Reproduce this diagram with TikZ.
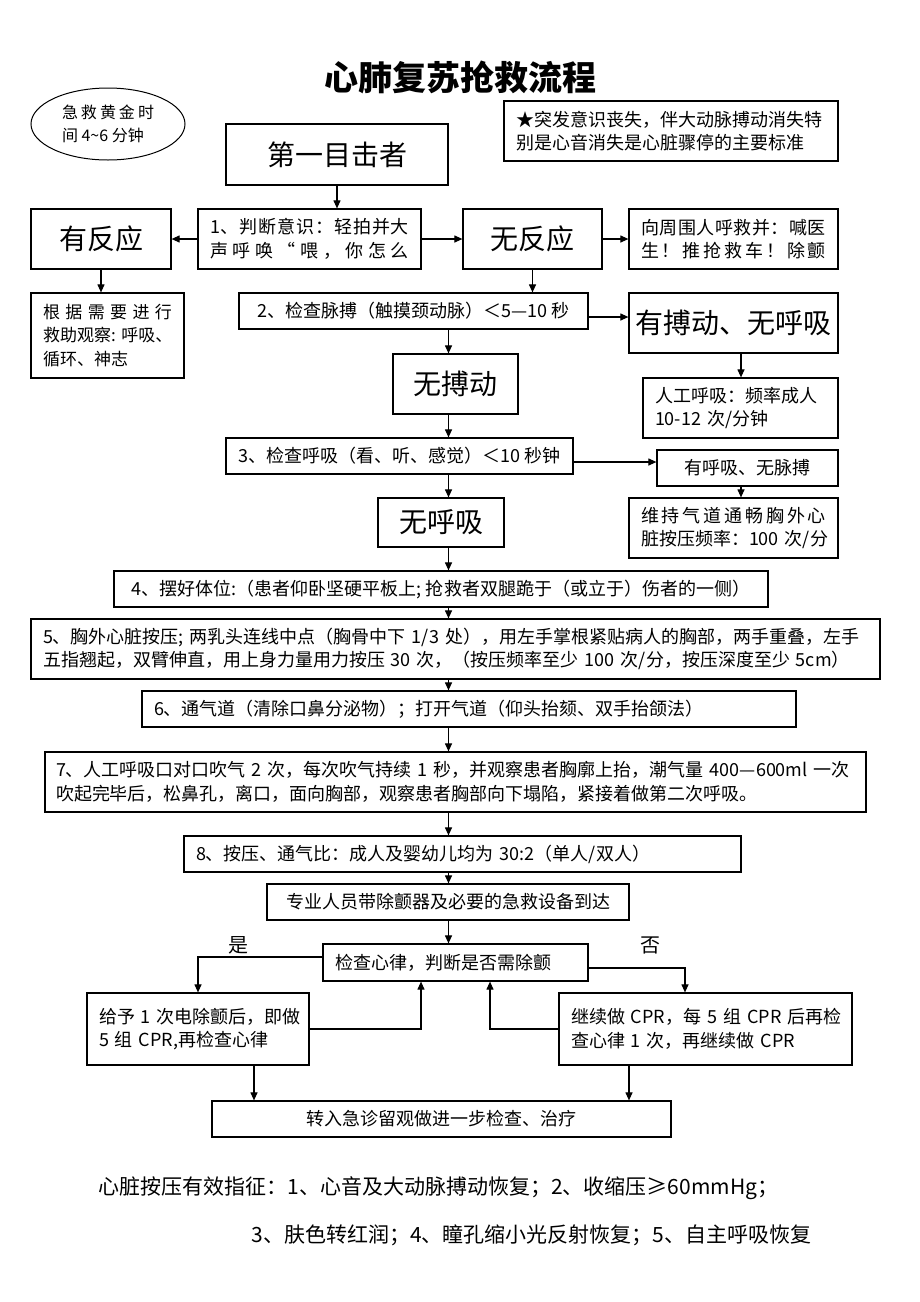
\documentclass[tikz,border=0pt]{standalone}
\usepackage{fontspec}
\setmainfont{Noto Sans CJK SC}
\usetikzlibrary{arrows.meta,shapes.geometric}

\newcommand\fsz[2]{\fontsize{#1}{#2}\selectfont}
\ExplSyntaxOn
\NewDocumentCommand\spreadline{mm}{\hbox to #1{\tl_map_inline:nn{#2}{##1\hfil}\unskip}}
\ExplSyntaxOff

\tikzset{
  box/.style={draw,line width=1.2pt,inner xsep=12pt,inner ysep=0pt,font=\fsz{18}{23.5}},
  bigbox/.style={box,font=\fsz{28}{32}},
  lbox/.style={box,align=left},
  arr/.style={-{Triangle[length=8pt,width=7pt]},line width=1.1pt}
}

\begin{document}
\begin{tikzpicture}[x=1pt,y=-1pt]
  \useasboundingbox (0,0) rectangle (920,1302);
  % columns of the connectors
  \coordinate (spine) at (448.5,0);
  \coordinate (rcol) at (741,0);
  \coordinate (nocol) at (685,0);
  \coordinate (backl) at (421,0);
  \coordinate (backr) at (490,0);
  \coordinate (exitl) at (254,0);
  \coordinate (exitr) at (629,0);

  \node[font=\fsz{34}{40}\bfseries] (title) at (460,77) {心肺复苏抢救流程};
  \node[draw,ellipse,line width=1pt,minimum width=154pt,minimum height=72pt,inner sep=0pt,align=left,font=\fsz{16}{23}] (golden) at (108,124) {\spreadline{92pt}{急救黄金时}\\间 4\textasciitilde6 分钟};
  \node[lbox,minimum width=334pt,minimum height=60pt,text width=310pt] (note) at (671,131) {★突发意识丧失，伴大动脉搏动消失特\\别是心音消失是心脏骤停的主要标准};

  \node[bigbox,minimum width=222pt,minimum height=61pt] (eye) at (337,154.5) {第一目击者};
  \node[lbox,minimum width=223pt,minimum height=60pt,text width=199pt] (judge) at (309.5,239) {\spreadline{199pt}{1、判断意识：轻拍并大}\\\spreadline{199pt}{声呼唤“喂，你怎么}};
  \node[bigbox,minimum width=140pt,minimum height=60pt] (yes) at (101,239) {有反应};
  \node[bigbox,minimum width=139pt,minimum height=60pt] (no) at (532.5,239) {无反应};
  \node[lbox,minimum width=209pt,minimum height=60pt,text width=185pt] (call) at (733.5,239) {\spreadline{185pt}{向周围人呼救并：喊医}\\\spreadline{185pt}{生！推抢救车！除颤}};
  \node[lbox,font=\fsz{17}{23.5},minimum width=153pt,minimum height=85pt,text width=129pt] (observe) at (107.5,335.5) {\spreadline{129pt}{根据需要进行}\\救助观察:~呼吸、\\循环、神志};

  \node[box,minimum width=349pt,minimum height=36pt] (pulse) at (413.5,311) {2、检查脉搏（触摸颈动脉）＜5—10 秒};
  \node[bigbox,inner xsep=4pt,minimum width=209pt,minimum height=60pt] (beat) at (733.5,323) {有搏动、无呼吸};
  \node[bigbox,minimum width=125pt,minimum height=60pt] (nobeat) at (455.5,384) {无搏动};
  \node[lbox,minimum width=195pt,minimum height=60pt,text width=171pt] (rescue) at (740.5,408) {人工呼吸：频率成人\\10-12~次/分钟};
  \node[box,minimum width=347pt,minimum height=36pt] (breathe) at (399.5,456) {3、检查呼吸（看、听、感觉）＜10 秒钟};
  \node[box,minimum width=181pt,minimum height=36pt] (hasbreath) at (747.5,468) {有呼吸、无脉搏};
  \node[bigbox,minimum width=126pt,minimum height=49pt] (nobreath) at (441,522.5) {无呼吸};
  \node[lbox,minimum width=209pt,minimum height=60pt,text width=185pt] (keep) at (733.5,528) {\spreadline{185pt}{维持气道通畅胸外心}\\脏按压频率：100~次/分};

  \node[box,minimum width=654pt,minimum height=36pt] (pose) at (441,589) {4、摆好体位:（患者仰卧坚硬平板上; 抢救者双腿跪于（或立于）伤者的一侧）};
  \node[lbox,minimum width=849pt,minimum height=60pt,text width=825pt] (cpr) at (455.5,649) {\mbox{5、胸外心脏按压; 两乳头连线中点（胸骨中下 1/3 处），用左手掌根紧贴病人的胸部，两手重叠，左手}\\\mbox{五指翘起，双臂伸直，用上身力量用力按压 30 次，（按压频率至少 100 次/分，按压深度至少 5cm）}};
  \node[lbox,minimum width=654pt,minimum height=36pt,text width=630pt] (airway) at (469,709) {6、通气道（清除口鼻分泌物）；打开气道（仰头抬颏、双手抬颌法）};
  \node[lbox,minimum width=821pt,minimum height=60pt,text width=799pt,inner xsep=11pt] (mouth) at (455.5,782) {\mbox{7、人工呼吸口对口吹气 2 次，每次吹气持续 1 秒，并观察患者胸廓上抬，潮气量 400—600ml 一次}\\\mbox{吹起完毕后，松鼻孔，离口，面向胸部，观察患者胸部向下塌陷，紧接着做第二次呼吸。}};
  \node[lbox,minimum width=557pt,minimum height=36pt,text width=533pt] (ratio) at (462.5,854) {8、按压、通气比：成人及婴幼儿均为~30:2（单人/双人）};
  \node[box,minimum width=362pt,minimum height=36pt] (team) at (448,902) {专业人员带除颤器及必要的急救设备到达};
  \node[lbox,minimum width=265pt,minimum height=37pt,text width=241pt] (rhythm) at (455.5,962.5) {检查心律，判断是否需除颤};
  \node[lbox,minimum width=222pt,minimum height=72pt,text width=198pt] (shock) at (198,1029) {给予~1~次电除颤后，即做\\5~组~CPR,再检查心律};
  \node[lbox,minimum width=293pt,minimum height=72pt,text width=269pt] (cont) at (705.5,1029) {继续做~CPR，每~5~组~CPR~后再检\\查心律~1~次，再继续做~CPR};
  \node[box,minimum width=459pt,minimum height=36pt] (exit) at (441.5,1119) {转入急诊留观做进一步检查、治疗};
  \node[font=\fsz{20}{24}] (yeslbl) at (238,945) {是};
  \node[font=\fsz{20}{24}] (nolbl) at (650,945) {否};

  \node[anchor=west,font=\fsz{21}{26}] (sign1) at (95,1188) {心脏按压有效指征：1、心音及大动脉搏动恢复；2、收缩压≥60mmHg；};
  \node[anchor=west,font=\fsz{21}{26}] (sign2) at (248,1235) {3、肤色转红润；4、瞳孔缩小光反射恢复；5、自主呼吸恢复};

  \draw[arr] (eye.south) -- (eye.south |- judge.north);
  \draw[arr] (judge.west) -- (yes.east);
  \draw[arr] (judge.east) -- (no.west);
  \draw[arr] (no.east) -- (call.west);
  \draw[arr] (yes.south) -- (yes.south |- observe.north);
  \draw[arr] (no.south) -- (no.south |- pulse.north);
  \draw[arr] ([yshift=-6pt]pulse.east) -- ([yshift=-6pt]pulse.east -| beat.west);
  \draw[arr] (beat.south -| rcol) -- (rescue.north -| rcol);
  \draw[arr] ([yshift=-6pt]breathe.east) -- ([yshift=-6pt]breathe.east -| hasbreath.west);
  \draw[arr] (hasbreath.south -| rcol) -- (keep.north -| rcol);
  \foreach \from/\to in {pulse/nobeat,nobeat/breathe,breathe/nobreath,nobreath/pose,pose/cpr,cpr/airway,airway/mouth,mouth/ratio,ratio/team,team/rhythm}
    \draw[arr] (\from.south -| spine) -- (\to.north -| spine);
  \draw[arr] ([yshift=5.5pt]rhythm.west) -| (shock.north);
  \draw[arr] ([yshift=-5.5pt]rhythm.east) -| (cont.north -| nocol);
  \draw[arr] (shock.east) -| (rhythm.south -| backl);
  \draw[arr] (cont.west) -| (rhythm.south -| backr);
  \draw[arr] (shock.south -| exitl) -- (exit.north -| exitl);
  \draw[arr] (cont.south -| exitr) -- (exit.north -| exitr);
\end{tikzpicture}
\end{document}
